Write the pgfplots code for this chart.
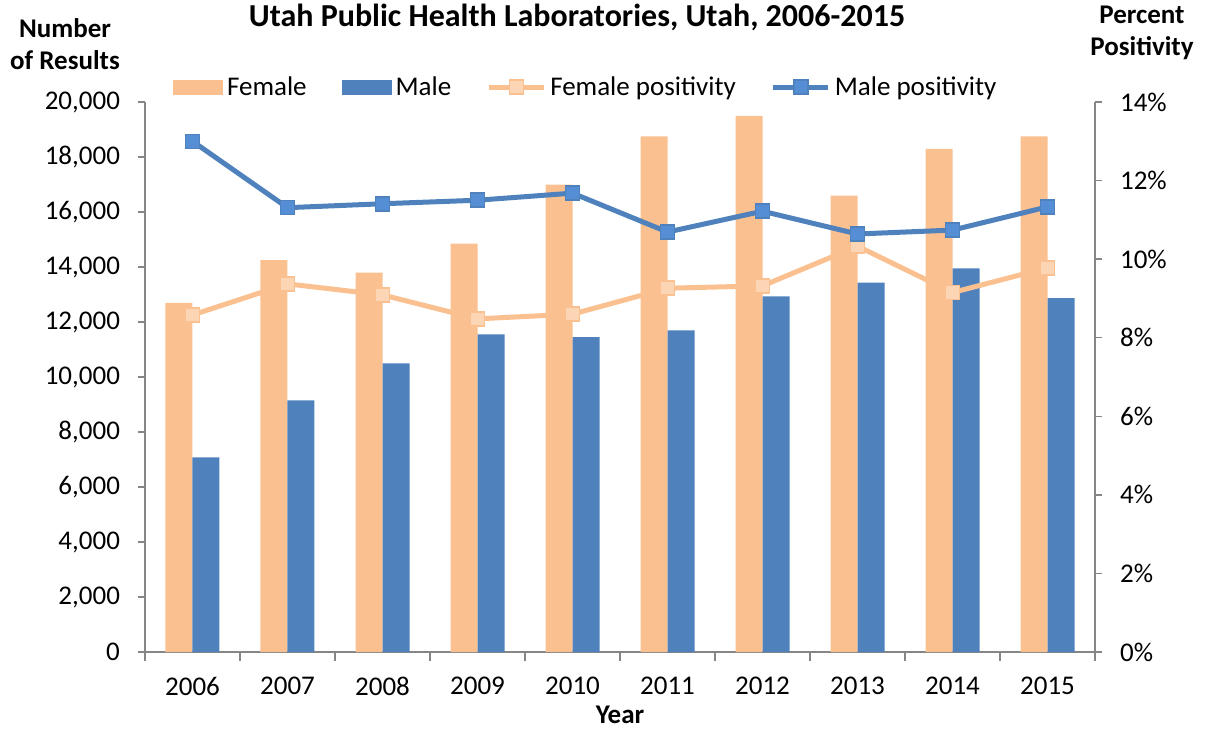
\documentclass[border=0pt]{standalone}
\usepackage{fontspec}
\setmainfont{Carlito}
\usepackage{pgfplots}
\pgfplotsset{compat=1.18}
\definecolor{fbar}{HTML}{FAC090}
\definecolor{mbar}{HTML}{4F81BD}
\definecolor{fmark}{HTML}{FCD5B5}
\definecolor{mmark}{HTML}{558ED5}
\definecolor{axgray}{HTML}{868686}
\newcommand{\fs}{\fontsize{13.5}{16}\selectfont}
\pgfplotsset{
  lineleg/.style={legend image code/.code={\draw[mark repeat=2,mark phase=2,##1] plot coordinates {(0pt,0pt)(13.75pt,0pt)(27.5pt,0pt)};}},
  barleg/.style={legend image code/.code={\fill[##1, draw=none] (0pt,-3.75pt) rectangle (25pt,3.75pt);}},
}
\begin{document}
\begin{tikzpicture}
\pgfplotsset{
  common/.style={scale only axis, width=475pt, height=275pt,
    xmin=-0.5, xmax=9.5, clip=false,
    axis line style={axgray, line width=0.75pt},
    tick style={axgray, line width=0.75pt},
    tick label style={font=\fs, text=black},
    /pgf/number format/assume math mode=true,
    tick align=outside,
    major tick length=3.5pt, minor tick length=4.5pt,
  },
}
\begin{axis}[common, name=ax,
  ybar=0pt, bar width=13.5pt,
  ymin=0, ymax=20000, ytick={0,2000,...,20000},
  axis x line*=bottom, axis y line*=left,
  xtick={0,...,9},
  xticklabels={2006,2007,2008,2009,2010,2011,2012,2013,2014,2015},
  major x tick style={draw=none},
  minor xtick={-0.5,0.5,...,9.5},
  scaled y ticks=false,
  yticklabel style={/tikz/xshift=-5.5pt, /pgf/number format/.cd, fixed, 1000 sep={,}},
  xticklabel style={/tikz/yshift=-5.5pt},
]
\addplot[fill=fbar, draw=none] coordinates {
 (0,12700) (1,14250) (2,13800) (3,14850) (4,17000)
 (5,18750) (6,19500) (7,16600) (8,18300) (9,18750)};
\addplot[fill=mbar, draw=none] coordinates {
 (0,7080) (1,9150) (2,10500) (3,11550) (4,11450)
 (5,11700) (6,12930) (7,13430) (8,13950) (9,12870)};
\end{axis}
\begin{axis}[common,
  ymin=0, ymax=14, ytick={0,2,...,14},
  axis y line*=right, axis x line=none,
  yticklabel={\pgfmathprintnumber{\tick}\%},
  yticklabel style={/tikz/xshift=5.5pt},
  legend columns=4,
  legend style={draw=none, fill=none, font=\fs,
    at={(0.465,1.027)}, anchor=center,
    /tikz/every even column/.append style={column sep=15.5pt},
    /tikz/every odd column/.append style={column sep=0pt}},
]
\addlegendimage{barleg, fill=fbar}
\addlegendimage{barleg, fill=mbar}
\addplot[color=fbar, line width=2.5pt, mark=square*,
  mark size=3.5pt, mark options={fill=fmark, draw=fbar, line width=0.75pt},
  lineleg]
 coordinates {
 (0,8.58) (1,9.37) (2,9.09) (3,8.48) (4,8.60)
 (5,9.26) (6,9.32) (7,10.33) (8,9.15) (9,9.78)};
\addplot[color=mbar, line width=2.5pt, mark=square*,
  mark size=3.5pt, mark options={fill=mmark, draw=mbar, line width=0.75pt},
  lineleg]
 coordinates {
 (0,13.0) (1,11.31) (2,11.41) (3,11.50) (4,11.68)
 (5,10.69) (6,11.22) (7,10.64) (8,10.74) (9,11.33)};
\legend{Female,Male,Female positivity,Male positivity}
\end{axis}
\node[inner sep=0pt, font=\bfseries\fontsize{16}{19}\selectfont] at ([shift={(216pt,42.5pt)}]ax.north west) {Utah Public Health Laboratories, Utah, 2006-2015};
\node[inner sep=0pt, font=\bfseries\fs, align=center] at ([shift={(-40pt,29pt)}]ax.north west) {Number\\of Results};
\node[inner sep=0pt, font=\bfseries\fs, align=center] at ([shift={(23.5pt,34.75pt)}]ax.north east) {Percent\\Positivity};
\node[inner sep=0pt, font=\bfseries\fs] at ([shift={(237.5pt,-31.5pt)}]ax.south west) {Year};
\path ([shift={(-72.5pt,-39pt)}]ax.south west) rectangle ([shift={(531pt,326pt)}]ax.south west);
\end{tikzpicture}
\end{document}
